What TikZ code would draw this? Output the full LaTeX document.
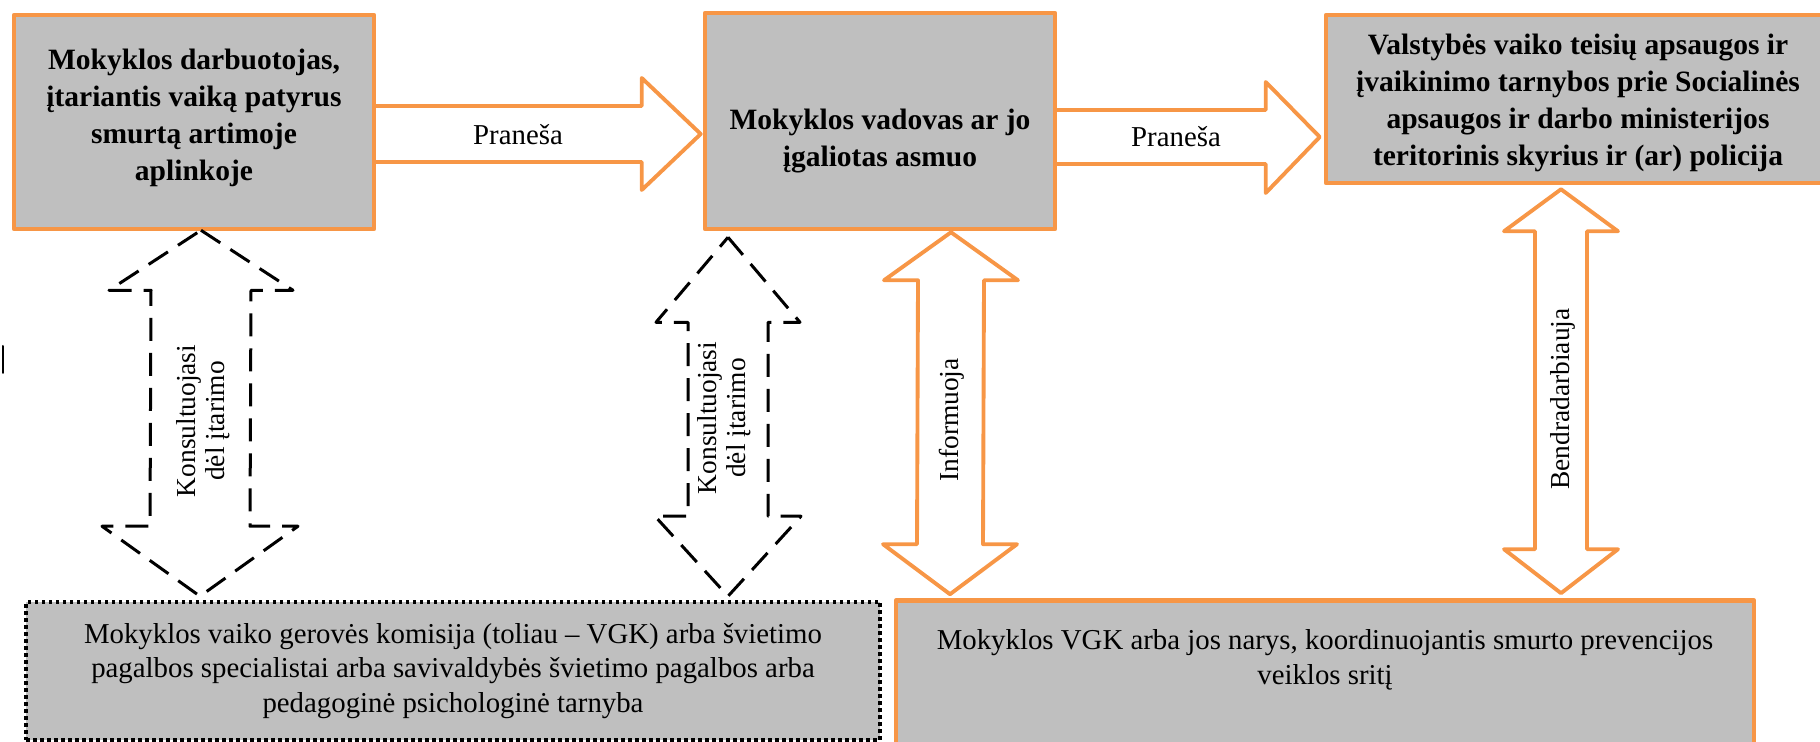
\documentclass[tikz,border=0pt]{standalone}
\usepackage{fontspec}
\setmainfont{Liberation Serif}
\usetikzlibrary{calc}
\usetikzlibrary{positioning}

\definecolor{accentorange}{RGB}{247,150,70}
\definecolor{boxgray}{RGB}{191,191,191}

\begin{document}
\begin{tikzpicture}[x = 0.1mm, y = -0.1mm, line cap = round, line join = round,
  box/.style = {draw = accentorange, line width = 1.3pt, fill = boxgray,
  inner sep = 0pt},
  dotbox/.style = {draw = black, line width = 0.35mm, line cap = butt,
  dash pattern = on 0.35mm off 0.35mm, fill = boxgray, inner sep = 0pt},
  flow/.style = {draw = accentorange, line width = 1.1pt},
  consult/.style = {draw = black, line width = 0.3mm, line cap = butt,
  dash pattern = on 2.3mm off 1.2mm},
  headtext/.style = {align = center, font = \fontsize{8.4}{10.6}\selectfont\bfseries},
  bodytext/.style = {align = center, font = \fontsize{8.2}{9.8}\selectfont},
  sidetext/.style = {align = center, rotate = 90,
  font = \fontsize{7.8}{8.2}\selectfont}]

  \useasboundingbox (0, 0) rectangle (1820, 742);

  \node[box, minimum width = 36mm, minimum height = 21.4mm] (worker) at (194, 122) {};
  \node[box, minimum width = 35mm, minimum height = 21.6mm] (lead) at (880, 121) {};
  \node[box, minimum width = 50.4mm, minimum height = 16.8mm] (agency) at (1578, 99) {};
  \node[dotbox, minimum width = 85.4mm, minimum height = 13.8mm] (team) at (453, 671) {};
  \node[box, minimum width = 85.8mm, minimum height = 16.9mm] (coordinator) at (1325, 685) {};

  \node[headtext] (workertext) at ($(worker) + (0, -4)$)
  {Mokyklos darbuotojas,\\ įtariantis vaiką patyrus\\ smurtą artimoje\\ aplinkoje};
  \node[headtext] (leadtext) at ($(lead) + (0, 20)$)
  {Mokyklos vadovas ar jo\\ įgaliotas asmuo};
  \node[headtext] (agencytext) at ($(agency) + (0, 4)$)
  {Valstybės vaiko teisių apsaugos ir\\ įvaikinimo tarnybos prie Socialinės\\
  apsaugos ir darbo ministerijos\\ teritorinis skyrius ir (ar) policija};
  \node[bodytext] (teamtext) at (team)
  {Mokyklos vaiko gerovės komisija (toliau – VGK) arba švietimo\\
  pagalbos specialistai arba savivaldybės švietimo pagalbos arba\\
  pedagoginė psichologinė tarnyba};
  \node[bodytext] (coordinatortext) at ($(coordinator) + (0, -25)$)
  {Mokyklos VGK arba jos narys, koordinuojantis smurto prevencijos\\ veiklos sritį};

  \draw[flow] ($(worker.east) + (0, -16)$) -- ($(lead.west) + (-61, -15)$)
  -- ($(lead.west) + (-61, -43)$) -- ($(lead.west) + (-2, 13)$)
  -- ($(lead.west) + (-61, 69)$) -- ($(lead.west) + (-61, 41)$)
  -- ($(worker.east) + (0, 40)$);
  \node[bodytext] (tell1) at (518, 135) {Praneša};

  \draw[flow] ($(lead.east) + (0, -11)$) -- ($(agency.west) + (-58, 11)$)
  -- ($(agency.west) + (-58, -17)$) -- ($(agency.west) + (-4, 38)$)
  -- ($(agency.west) + (-58, 94)$) -- ($(agency.west) + (-58, 65)$)
  -- ($(lead.east) + (0, 43)$);
  \node[bodytext] (tell2) at (1176, 137) {Praneša};

  \path ($(worker.south) + (7, -1)$) coordinate (C1a)
  ($(team.north) + (-253, -4)$) coordinate (C1b);
  \draw[consult] (C1a) -- ($(C1a) + (92, 60)$) -- ($(C1a) + (50, 60)$)
  -- ($(C1b) + (50, -70)$) -- ($(C1b) + (98, -70)$) -- (C1b)
  -- ($(C1b) + (-98, -70)$) -- ($(C1b) + (-50, -70)$)
  -- ($(C1a) + (-50, 60)$) -- ($(C1a) + (-92, 60)$) -- cycle;
  \node[sidetext] (consult1) at (203, 421) {Konsultuojasi\\ dėl įtarimo};

  \path ($(lead.south) + (-152, 6)$) coordinate (C2a)
  ($(team.north) + (275, -4)$) coordinate (C2b);
  \draw[consult] (C2a) -- ($(C2a) + (72, 85)$) -- ($(C2a) + (40, 85)$)
  -- ($(C2b) + (40, -80)$) -- ($(C2b) + (73, -80)$) -- (C2b)
  -- ($(C2b) + (-73, -80)$) -- ($(C2b) + (-40, -80)$)
  -- ($(C2a) + (-40, 85)$) -- ($(C2a) + (-72, 85)$) -- cycle;
  \node[sidetext] (consult2) at (724, 418) {Konsultuojasi\\ dėl įtarimo};

  \path ($(lead.south) + (71, 1)$) coordinate (Ia)
  ($(coordinator.north) + (-375, -4)$) coordinate (Ib);
  \draw[flow] (Ia) -- ($(Ia) + (67, 48)$) -- ($(Ia) + (33, 48)$)
  -- ($(Ib) + (33, -50)$) -- ($(Ib) + (67, -50)$) -- (Ib)
  -- ($(Ib) + (-67, -50)$) -- ($(Ib) + (-33, -50)$)
  -- ($(Ia) + (-33, 48)$) -- ($(Ia) + (-67, 48)$) -- cycle;
  \node[sidetext] (inform) at (952, 420) {Informuoja};

  \path ($(agency.south) + (-17, 4)$) coordinate (Ba)
  ($(coordinator.north) + (236, -5)$) coordinate (Bb);
  \draw[flow] (Ba) -- ($(Ba) + (57, 42)$) -- ($(Ba) + (26, 42)$)
  -- ($(Bb) + (26, -44)$) -- ($(Bb) + (57, -44)$) -- (Bb)
  -- ($(Bb) + (-57, -44)$) -- ($(Bb) + (-26, -44)$)
  -- ($(Ba) + (-26, 42)$) -- ($(Ba) + (-57, 42)$) -- cycle;
  \node[sidetext] (cooperate) at (1563, 399) {Bendradarbiauja};

  \draw[line width = 0.2mm] (3, 346) -- (3, 373);
\end{tikzpicture}
\end{document}
